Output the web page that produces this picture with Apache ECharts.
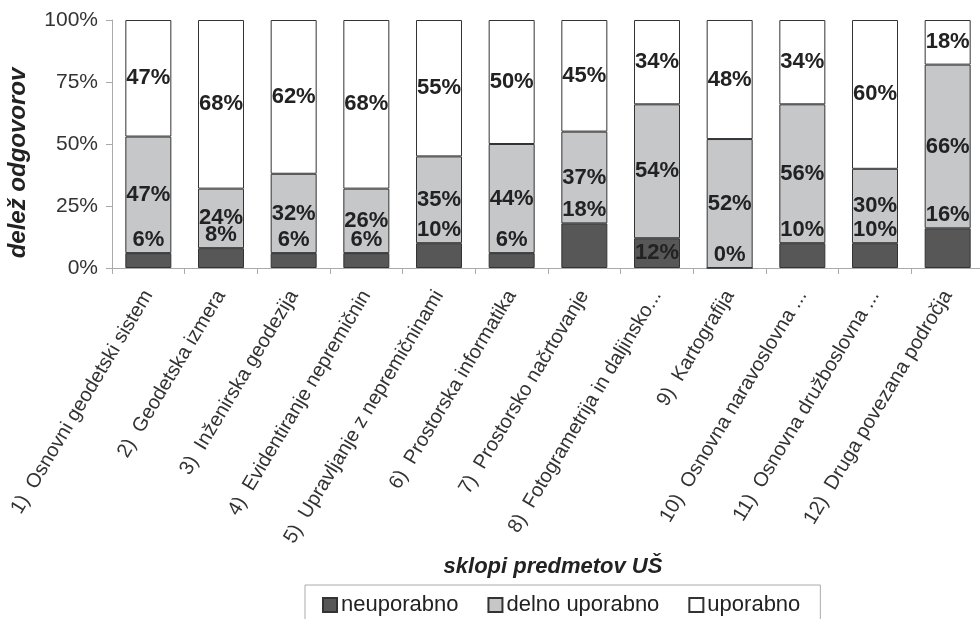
<!DOCTYPE html>
<html>
<head>
<meta charset="utf-8">
<script src="https://cdn.jsdelivr.net/npm/echarts@6/dist/echarts.min.js"></script>
<style>html,body{margin:0;padding:0;background:#fff}#c{width:980px;height:619px}</style>
</head>
<body>
<div id="c"></div>
<script>
const categories = [
  '1)  Osnovni geodetski sistem',
  '2)  Geodetska izmera',
  '3)  Inženirska geodezija',
  '4)  Evidentiranje nepremičnin',
  '5)  Upravljanje z nepremičninami',
  '6)  Prostorska informatika',
  '7)  Prostorsko načrtovanje',
  '8)  Fotogrametrija in daljinsko...',
  '9)  Kartografija',
  '10)  Osnovna naravoslovna ...',
  '11)  Osnovna družboslovna ...',
  '12)  Druga povezana področja'
];
const seriesNames = ['neuporabno', 'delno uporabno', 'uporabno'];
const neuporabno = [6, 8, 6, 6, 10, 6, 18, 12, 0, 10, 10, 16];
const delnoUporabno = [47, 24, 32, 26, 35, 44, 37, 54, 52, 56, 30, 66];
const uporabno = [47, 68, 62, 68, 55, 50, 45, 34, 48, 34, 60, 18];
const yTicks = [0, 25, 50, 75, 100];
const yTitle = 'delež odgovorov';
const xTitle = 'sklopi predmetov UŠ';

const FONT = 'Liberation Sans, Arial, sans-serif';
const labelBase = {
  show: true, color: '#222', fontFamily: FONT, fontWeight: 'bold', fontSize: 22,
  formatter: p => p.value + '%'
};
// labels of the dark segments sit above the segment, except where it is tall enough
const darkInsideIdx = [7];

const chart = echarts.init(document.getElementById('c'), null, {renderer: 'canvas'});
chart.setOption({
  animation: false,
  backgroundColor: '#fff',
  grid: {left: 112, top: 20, width: 872, height: 248, containLabel: false, outerBoundsMode: 'none'},
  title: {
    text: xTitle,
    left: 548, top: 551, textAlign: 'center',
    textStyle: {fontFamily: FONT, fontWeight: 'bold', fontStyle: 'italic', fontSize: 22, color: '#222'}
  },
  graphic: [{
    type: 'text',
    x: 18, y: 163,
    rotation: Math.PI / 2,
    style: {
      text: yTitle, align: 'center', verticalAlign: 'middle',
      font: 'italic bold 24px ' + FONT, fill: '#222'
    }
  }],
  legend: {
    data: seriesNames,
    icon: 'rect',
    left: 305, top: 585,
    padding: [9, 20, 14, 17],
    itemGap: 29, itemWidth: 14, itemHeight: 14,
    borderColor: '#aaa', borderWidth: 1,
    textStyle: {fontFamily: FONT, fontSize: 22, color: '#222', padding: [0, 0, 0, -1]}
  },
  xAxis: {
    type: 'category',
    data: categories,
    axisLine: {show: true, lineStyle: {color: '#aaa', width: 1}},
    axisTick: {show: true, length: 6, alignWithLabel: false, lineStyle: {color: '#aaa'}},
    axisLabel: {
      interval: 0, rotate: 59, margin: 24,
      fontFamily: FONT, fontSize: 20, color: '#333'
    }
  },
  yAxis: {
    type: 'value', min: 0, max: 100, interval: 25,
    axisLine: {show: true, lineStyle: {color: '#aaa', width: 1}},
    axisTick: {show: true, length: 6, lineStyle: {color: '#aaa'}},
    splitLine: {show: false},
    axisLabel: {
      margin: 14, fontFamily: FONT, fontSize: 21, color: '#333',
      formatter: v => yTicks.includes(v) ? v + '%' : ''
    }
  },
  series: [
    {
      name: seriesNames[0], type: 'bar', stack: 'all', barWidth: 46,
      itemStyle: {color: '#575757', borderColor: '#333', borderWidth: 1},
      label: Object.assign({}, labelBase, {position: 'top', distance: 2}),
      data: neuporabno.map((v, i) => darkInsideIdx.includes(i)
        ? {value: v, label: {position: 'inside'}} : v)
    },
    {
      name: seriesNames[1], type: 'bar', stack: 'all', barWidth: 46,
      itemStyle: {color: '#c6c7c9', borderColor: '#333', borderWidth: 1},
      label: Object.assign({}, labelBase, {position: 'inside'}),
      data: delnoUporabno
    },
    {
      name: seriesNames[2], type: 'bar', stack: 'all', barWidth: 46,
      itemStyle: {color: '#ffffff', borderColor: '#333', borderWidth: 1},
      label: Object.assign({}, labelBase, {position: 'inside'}),
      data: uporabno
    }
  ]
});
</script>
</body>
</html>
